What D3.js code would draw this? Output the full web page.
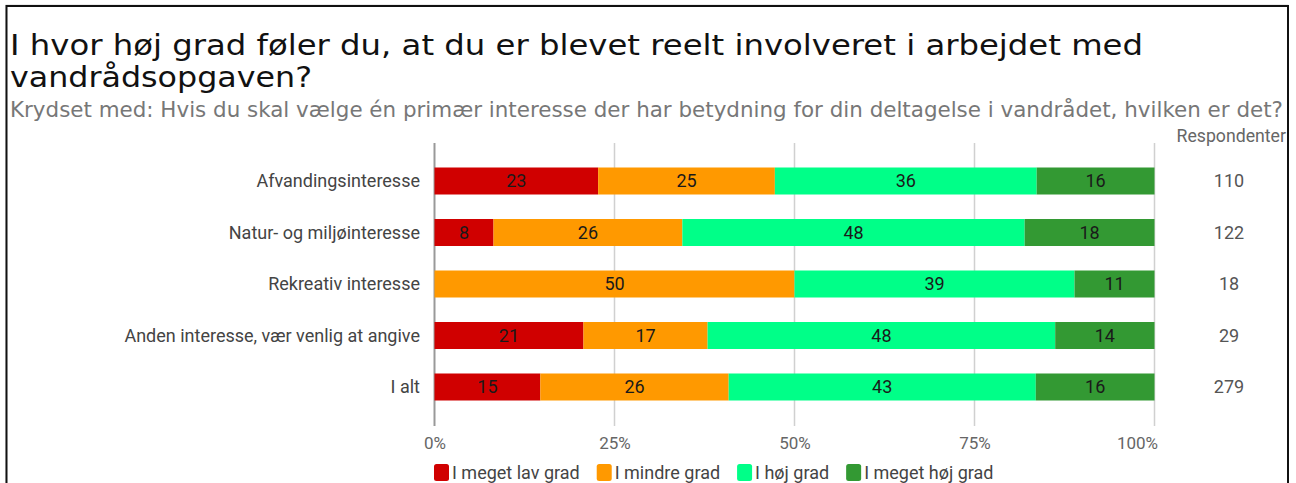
<!DOCTYPE html>
<html><head><meta charset="utf-8">
<script src="https://cdn.jsdelivr.net/npm/d3@7"></script>
<style>
html,body{margin:0;padding:0;background:#fff;overflow:hidden}
</style></head>
<body>
<svg id="c" width="1296" height="483"></svg>
<script>
const titleLines = ["I hvor høj grad føler du, at du er blevet reelt involveret i arbejdet med", "vandrådsopgaven?"];
const subtitle = "Krydset med: Hvis du skal vælge én primær interesse der har betydning for din deltagelse i vandrådet, hvilken er det?";
const categories = ["Afvandingsinteresse", "Natur- og miljøinteresse", "Rekreativ interesse", "Anden interesse, vær venlig at angive", "I alt"];
const seriesNames = ["I meget lav grad", "I mindre grad", "I høj grad", "I meget høj grad"];
const seriesColors = ["#d00000", "#ff9900", "#00ff88", "#339933"];
// respondent counts per answer (rows = categories)
const meget_lav = [25, 10, 0, 6, 41];
const mindre = [27, 32, 9, 5, 73];
const hoej = [40, 58, 7, 14, 119];
const meget_hoej = [18, 22, 2, 4, 46];
const respondents = [110, 122, 18, 29, 279];
const tickValues = [0, 0.25, 0.5, 0.75, 1];
const tickLabels = ["0%", "25%", "50%", "75%", "100%"];

const svg = d3.select("#c");
// frame
svg.append("rect").attr("x", 6).attr("y", 5).attr("width", 1282).attr("height", 520)
  .attr("fill", "none").attr("stroke", "#d8d8d8").attr("stroke-width", 1);
svg.append("rect").attr("x", 6.5).attr("y", 6).attr("width", 1281.5).attr("height", 520)
  .attr("fill", "none").attr("stroke", "#111").attr("stroke-width", 2);

// titles
function fitText(sel, target) {
  const w = sel.node().getComputedTextLength();
  const fs = parseFloat(sel.attr("font-size"));
  sel.attr("font-size", fs * target / w);
}
svg.append("text").attr("x", 10).attr("y", 55).attr("font-family", "DejaVu Sans")
  .attr("font-size", 27.5).attr("fill", "#111")
  .attr("textLength", 1133).attr("lengthAdjust", "spacingAndGlyphs").text(titleLines[0]);
svg.append("text").attr("x", 10).attr("y", 87).attr("font-family", "DejaVu Sans")
  .attr("font-size", 27.5).attr("fill", "#111")
  .attr("textLength", 302).attr("lengthAdjust", "spacingAndGlyphs").text(titleLines[1]);
const st = svg.append("text").attr("x", 10).attr("y", 117).attr("font-family", "DejaVu Sans")
  .attr("font-size", 17).attr("fill", "#777").text(subtitle);
fitText(st, 1274);

const x = d3.scaleLinear().domain([0, 1]).range([434.5, 1154.5]);
const y = d3.scaleBand().domain(categories).range([155.25, 412.75]).paddingInner(0.4757).paddingOuter(0.2379);

// grid
const g = svg.append("g");
g.selectAll("line.grid").data(tickValues).join("line")
  .attr("x1", d => x(d)).attr("x2", d => x(d)).attr("y1", 143).attr("y2", 426)
  .attr("stroke", d => d === 0 ? "#999" : "#d0d0d0").attr("stroke-width", d => d === 0 ? 2 : 1.5);

// axis tick labels
const axis = d3.axisBottom(x).tickValues(tickValues).tickFormat((d, i) => tickLabels[i]).tickSize(0).tickPadding(0);
const ax = svg.append("g").attr("transform", "translate(0,443)").call(axis);
ax.select(".domain").remove();
ax.selectAll("text").attr("font-family", "Roboto").attr("font-size", 17).attr("fill", "#666").attr("dy", "0.35em")
  .attr("text-anchor", d => d === 1 ? "end" : "middle").attr("x", d => d === 1 ? 3 : 0);

// stack
const seriesData = [meget_lav, mindre, hoej, meget_hoej];
const rows = categories.map((c, i) => {
  const o = { cat: c, total: respondents[i] };
  seriesNames.forEach((s, j) => o[s] = seriesData[j][i] / respondents[i]);
  return o;
});
const stack = d3.stack().keys(seriesNames)(rows);
const layers = svg.append("g").selectAll("g").data(stack).join("g")
  .attr("fill", (d, i) => seriesColors[i]);
layers.selectAll("rect").data(d => d.filter(p => p[1] - p[0] > 0)).join("rect")
  .attr("x", d => x(d[0])).attr("width", d => x(d[1]) - x(d[0]))
  .attr("y", d => y(d.data.cat)).attr("height", y.bandwidth());
layers.selectAll("text").data(d => d.filter(p => p[1] - p[0] > 0)).join("text")
  .attr("x", d => (x(d[0]) + x(d[1])) / 2).attr("y", d => y(d.data.cat) + y.bandwidth() / 2)
  .attr("dy", "0.35em").attr("text-anchor", "middle")
  .attr("font-family", "Roboto").attr("font-size", 18).attr("fill", "#1a1a1a")
  .text(d => Math.round((d[1] - d[0]) * 100));

// category labels
svg.append("g").selectAll("text").data(categories).join("text")
  .attr("x", 420).attr("y", d => y(d) + y.bandwidth() / 2).attr("dy", "0.35em")
  .attr("text-anchor", "end").attr("font-family", "Roboto").attr("font-size", 18).attr("fill", "#444")
  .text(d => d);

// respondents
svg.append("text").attr("x", 1286).attr("y", 136).attr("dy", "0.35em").attr("text-anchor", "end")
  .attr("font-family", "Roboto").attr("font-size", 17.7).attr("fill", "#666").text("Respondenter");
svg.append("g").selectAll("text").data(categories).join("text")
  .attr("x", 1229).attr("y", d => y(d) + y.bandwidth() / 2).attr("dy", "0.35em")
  .attr("text-anchor", "middle").attr("font-family", "Roboto").attr("font-size", 18).attr("fill", "#555")
  .text((d, i) => respondents[i]);

// legend
const leg = svg.append("g");
let lx = 434;
seriesNames.forEach((s, i) => {
  leg.append("rect").attr("x", lx).attr("y", 464).attr("width", 15).attr("height", 17).attr("rx", 2.5)
    .attr("fill", seriesColors[i]);
  const t = leg.append("text").attr("x", lx + 18).attr("y", 473).attr("dy", "0.35em")
    .attr("font-family", "Roboto").attr("font-size", 18).attr("fill", "#444").text(s);
  lx += 18 + t.node().getComputedTextLength() + 17;
});
</script>
</body></html>
